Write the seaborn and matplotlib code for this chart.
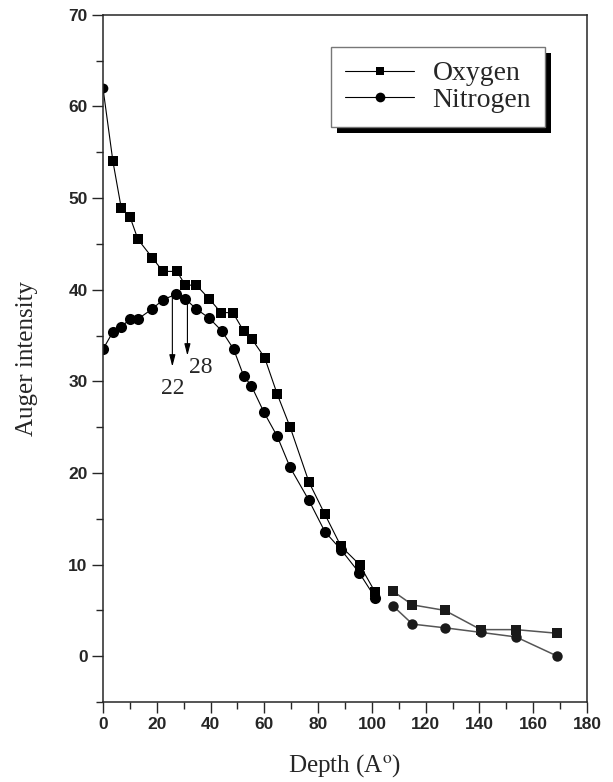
import matplotlib
matplotlib.use("Agg")
import matplotlib.pyplot as plt
import matplotlib.patheffects as pe
from matplotlib.lines import Line2D
from matplotlib.ticker import MultipleLocator
import seaborn as sns

# first run of the depth profile (0 - 101 A)
depth_o1 = [0, 3.7, 6.8, 10.1, 13.0, 18.3, 22.3, 27.5, 30.6, 34.7, 39.5, 43.9,
            48.3, 52.3, 55.4, 60.1, 64.8, 69.6, 76.6, 82.5, 88.5, 95.4, 101.2]
oxygen1 = [62, 54.0, 48.9, 47.9, 45.5, 43.5, 42.0, 42.0, 40.5, 40.5, 39.0, 37.5,
           37.5, 35.5, 34.6, 32.6, 28.6, 25.0, 19.0, 15.5, 12.0, 10.0, 7.0]

depth_n1 = [0, 3.7, 6.8, 9.9, 13.0, 18.3, 22.3, 27.1, 30.6, 34.7, 39.5, 44.2,
            48.6, 52.3, 55.2, 59.9, 64.8, 69.6, 76.6, 82.5, 88.6, 95.3, 101.2]
nitrogen1 = [33.5, 35.4, 35.9, 36.8, 36.8, 37.9, 38.9, 39.5, 39.0, 37.9, 36.9, 35.5,
             33.5, 30.6, 29.5, 26.6, 24.0, 20.6, 17.0, 13.6, 11.6, 9.1, 6.4]

# second run (108 - 169 A)
depth2 = [107.8, 115.1, 127.1, 140.5, 153.6, 169.0]
oxygen2 = [7.1, 5.6, 5.0, 2.9, 2.9, 2.5]
nitrogen2 = [5.5, 3.5, 3.1, 2.6, 2.1, 0.0]

series_labels = ["Oxygen", "Nitrogen"]

# arrows marking the two depths
arrow_x = [25.8, 31.4]
arrow_top = [39.4, 39.0]
arrow_tip = [31.6, 32.8]
arrow_text = ["22", "28"]
text_pos = [(25.8, 29.2), (36.4, 31.5)]

sns.set_style("ticks")
plt.rcParams["font.family"] = ["Liberation Serif", "DejaVu Serif"]
plt.rcParams["mathtext.fontset"] = "stix"
plt.rcParams["axes.linewidth"] = 1.1
plt.rcParams["xtick.major.width"] = 1.0
plt.rcParams["ytick.major.width"] = 1.0
plt.rcParams["xtick.minor.width"] = 1.0
plt.rcParams["ytick.minor.width"] = 1.0

fig = plt.figure(figsize=(6.13, 7.82), dpi=100)
ax = fig.add_axes([0.168, 0.1023, 0.7896, 0.8787])

line_kw = dict(color="black", linewidth=0.8, markeredgewidth=0)
sns.lineplot(x=depth_o1, y=oxygen1, marker="s", markersize=7,
             markevery=list(range(1, len(depth_o1))), ax=ax, **line_kw)
ax.plot(depth_o1[0], oxygen1[0], "o", color="black", markersize=7, markeredgewidth=0)
sns.lineplot(x=depth_n1, y=nitrogen1, marker="o", markersize=8, ax=ax, **line_kw)

seg2_kw = dict(color="#555555", linewidth=1.1, markeredgewidth=0)
sns.lineplot(x=depth2, y=oxygen2, marker="s", markersize=7, ax=ax,
             markerfacecolor="#1a1a1a", **seg2_kw)
sns.lineplot(x=depth2, y=nitrogen2, marker="o", markersize=7.5, ax=ax,
             markerfacecolor="#1a1a1a", **seg2_kw)

for x, y0, y1, t, (tx, ty) in zip(arrow_x, arrow_top, arrow_tip, arrow_text, text_pos):
    ax.annotate("", xy=(x, y1), xytext=(x, y0),
                arrowprops=dict(arrowstyle="-|>,head_length=0.7,head_width=0.18",
                                color="black", lw=0.8, shrinkA=0, shrinkB=0))
    ax.text(tx, ty, t, ha="center", va="center", fontsize=17)

ax.set_xlim(0, 180)
ax.set_ylim(-5, 70)
ax.xaxis.set_major_locator(MultipleLocator(20))
ax.xaxis.set_minor_locator(MultipleLocator(10))
ax.yaxis.set_major_locator(MultipleLocator(10))
ax.yaxis.set_minor_locator(MultipleLocator(5))
ax.tick_params(which="major", length=8, labelsize=12.5, pad=3)
ax.tick_params(which="minor", length=5)
ax.tick_params(top=False, right=False, which="both")
for lbl in ax.get_xticklabels() + ax.get_yticklabels():
    lbl.set_fontfamily("Liberation Sans")
    lbl.set_fontweight("bold")

ax.set_xlabel("Depth (A$^{\\mathrm{o}}$)", fontsize=18, labelpad=14)
ax.set_ylabel("Auger intensity", fontsize=18, labelpad=22)

handles = [
    Line2D([], [], color="black", lw=0.8, marker="s", markersize=6, markeredgewidth=0),
    Line2D([], [], color="black", lw=0.8, marker="o", markersize=7, markeredgewidth=0),
]
leg = ax.legend(handles, series_labels, loc="upper right", bbox_to_anchor=(0.913, 0.953),
                fontsize=20, frameon=True, fancybox=False, handlelength=2.5,
                handletextpad=0.65, borderpad=0.5, labelspacing=0.03, borderaxespad=0)
frame = leg.get_frame()
frame.set_edgecolor("#777777")
frame.set_linewidth(1.0)
frame.set_alpha(1)
frame.set_path_effects([pe.SimplePatchShadow(offset=(4.5, -4.5), shadow_rgbFace="black", alpha=1),
                        pe.Normal()])

fig.savefig("out.png", dpi=100)
